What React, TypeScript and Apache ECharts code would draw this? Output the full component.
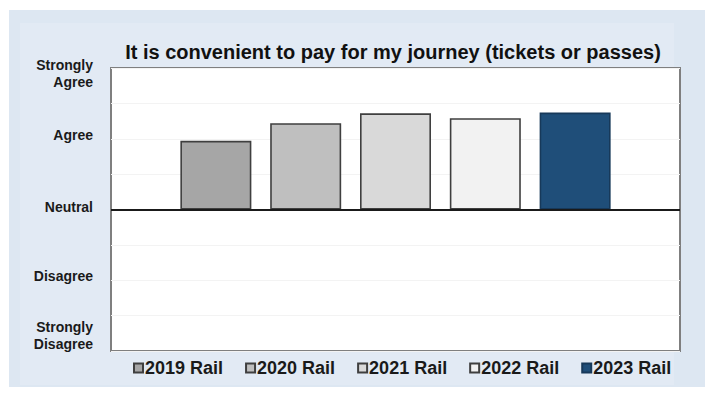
import React, { useEffect, useRef } from "react";
import * as echarts from "echarts";

const categories = ["It is convenient to pay for my journey (tickets or passes)"];
const seriesNames = ["2019 Rail", "2020 Rail", "2021 Rail", "2022 Rail", "2023 Rail"];
const seriesValues = [0.97, 1.22, 1.36, 1.29, 1.37];
const seriesColors = ["#a6a6a6", "#bfbfbf", "#d9d9d9", "#f2f2f2", "#1f4e79"];
const seriesBorders = ["#3f3f3f", "#3f3f3f", "#3f3f3f", "#3f3f3f", "#17395a"];
const tickLabels: Record<string, string> = {
  "2": "{g10|\u00a0}\n{t|Strongly}\n{t|Agree}",
  "1": "{t|Agree}\n{g8|\u00a0}",
  "0": "{t|Neutral}\n{g6|\u00a0}",
  "-1": "{t|Disagree}\n{g9|\u00a0}",
  "-2": "{t|Strongly}\n{t|Disagree}\n{g31|\u00a0}",
};

const FONT = "'Liberation Sans', Arial, sans-serif";
const base = { fontFamily: FONT, fontWeight: "bold", fontSize: 14, color: "#1a1a1a", align: "right", lineHeight: 17 };
const gap = (h: number) => ({ fontSize: 1, lineHeight: h, align: "right" });

export default function App() {
  const ref = useRef<HTMLDivElement>(null);
  useEffect(() => {
    if (!ref.current) return;
    const chart = echarts.init(ref.current, null, { renderer: "svg" });
    chart.setOption({
      animation: false,
      backgroundColor: "#ffffff",
      graphic: [
        {
          type: "rect",
          z: -10,
          shape: { x: 9, y: 10, width: 696, height: 377 },
          style: { fill: "#dde7f2" },
          silent: true,
        },
        {
          type: "rect",
          z: -9,
          shape: { x: 20, y: 23, width: 654, height: 362 },
          style: { fill: "#e2eaf4" },
          silent: true,
        },
      ],
      title: {
        text: categories[0],
        left: 388,
        textAlign: "center",
        top: 37,
        textStyle: { fontFamily: FONT, fontWeight: "bold", fontSize: 20, color: "#111" },
      },
      legend: {
        bottom: 14,
        left: 128,
        itemWidth: 9,
        itemHeight: 9,
        itemGap: 22,
        icon: "rect",
        textStyle: { fontFamily: FONT, fontWeight: "bold", fontSize: 18, color: "#1a1a1a", padding: [0, 0, 0, -3] },
        data: seriesNames,
      },
      grid: { left: 111, top: 68, right: 31, bottom: 45, containLabel: false,
        show: true, backgroundColor: "#ffffff", borderColor: "#7f7f7f", borderWidth: 2 },
      xAxis: {
        type: "category",
        data: [""],
        axisLine: { show: false },
        axisTick: { show: false },
        axisLabel: { show: false },
      },
      yAxis: {
        type: "value",
        min: -2,
        max: 2,
        interval: 0.5,
        axisLine: { show: false },
        axisTick: { show: false },
        splitLine: { show: true, lineStyle: { color: "#f3f3f3", width: 1 } },
        axisLabel: {
          margin: 18,
          verticalAlign: "middle",
          formatter: (v: number) => tickLabels[String(v)] ?? "",
          rich: {
            t: base,
            g6: gap(6),
            g8: gap(8),
            g9: gap(9),
            g10: gap(10),
            g31: gap(31),
          },
        },
      },
      series: seriesNames.map((name, i) => ({
        name,
        type: "bar",
        data: [seriesValues[i]],
        barWidth: 71,
        barGap: "26.5%",
        itemStyle: { color: seriesColors[i], borderColor: seriesBorders[i], borderWidth: 1.6 },
        markLine: i === 0 ? {
          silent: true,
          symbol: "none",
          label: { show: false },
          lineStyle: { color: "#1a1a1a", width: 2, type: "solid" },
          data: [{ yAxis: 0 }],
        } : undefined,
      })),
    });
    return () => chart.dispose();
  }, []);
  return (
    <div
      ref={ref}
      style={{ position: "absolute", left: 0, top: 0, width: 711, height: 396 }}
    />
  );
}
